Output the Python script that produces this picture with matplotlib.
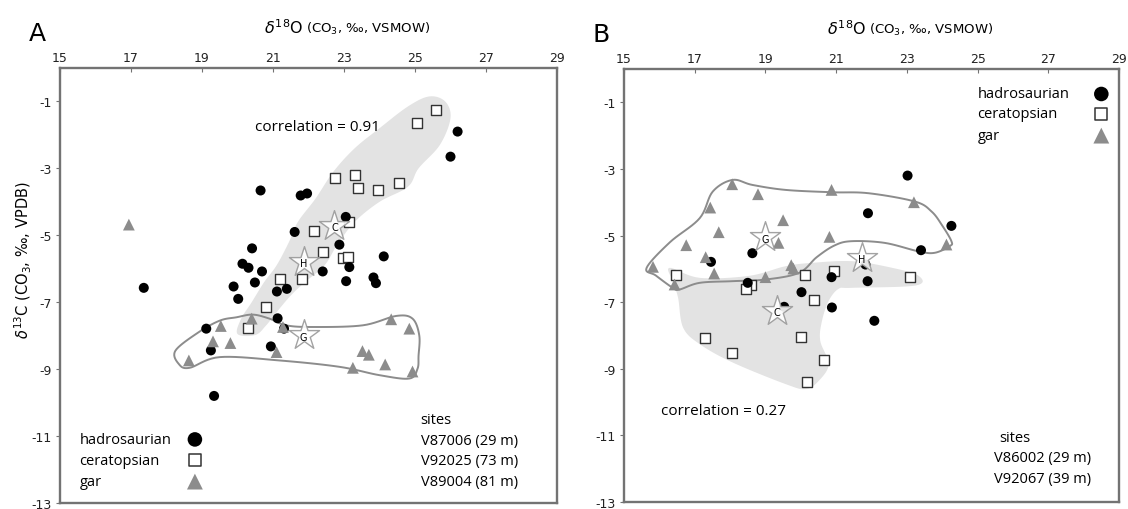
import numpy as np
import matplotlib
matplotlib.use("Agg")
import matplotlib.pyplot as plt
from matplotlib.patches import Polygon

# ---------------- data: d18O (x), d13C (y) ----------------
# panel A
a_hadro_x = [17.36, 20.65, 21.78, 21.96, 21.61, 20.41, 20.14, 20.31, 20.69, 20.49, 19.89, 20.02,
             21.11, 21.39, 22.40, 22.87, 23.15, 24.12, 23.06, 23.83, 23.90, 21.13, 21.31, 19.12,
             19.25, 20.94, 19.34, 26.20, 26.00, 23.05]
a_hadro_y = [-6.57, -3.66, -3.81, -3.75, -4.90, -5.39, -5.85, -5.97, -6.08, -6.41, -6.53, -6.90,
             -6.68, -6.60, -6.08, -5.28, -5.95, -5.63, -6.37, -6.26, -6.43, -7.48, -7.79, -7.79,
             -8.44, -8.32, -9.80, -1.90, -2.65, -4.45]
a_cera_x = [22.15, 21.21, 21.81, 22.42, 20.81, 22.76, 22.98, 23.12, 20.29, 25.60, 25.05, 23.30,
            23.40, 23.95, 24.55, 23.15]
a_cera_y = [-4.86, -6.30, -6.30, -5.50, -7.14, -3.28, -5.68, -5.66, -7.76, -1.25, -1.65, -3.20,
            -3.60, -3.65, -3.45, -4.60]
a_gar_x = [16.94, 20.40, 21.28, 19.53, 19.31, 19.80, 21.10, 18.63, 23.52, 23.70, 24.33, 24.84,
           24.16, 23.25, 24.93]
a_gar_y = [-4.68, -7.49, -7.74, -7.71, -8.17, -8.22, -8.49, -8.74, -8.46, -8.57, -7.51, -7.79,
           -8.86, -8.96, -9.07]
a_means = {"C": (22.73, -4.71), "H": (21.87, -5.80), "G": (21.86, -7.99)}
a_sites = ["V87006 (29 m)", "V92025 (73 m)", "V89004 (81 m)"]
a_corr = "correlation = 0.91"

# outline of ceratopsian field (grey) and gar field (line), panel A
a_cera_field = [(20.0, -7.95), (20.1, -7.5), (20.4, -7.0), (20.75, -6.4), (21.1, -5.9), (21.45, -5.2),
                (21.7, -4.6), (22.2, -3.9), (22.7, -3.1), (23.3, -2.4), (24.0, -1.8), (24.8, -1.15),
                (25.4, -0.85), (25.85, -1.0), (26.0, -1.5), (25.7, -2.3), (25.1, -3.0), (24.8, -3.55),
                (24.0, -4.0), (23.3, -4.6), (22.8, -5.3), (22.45, -5.9), (21.9, -6.4), (21.5, -6.8),
                (21.1, -7.3), (20.8, -7.7), (20.5, -7.98)]
a_gar_field = [(18.25, -8.45), (18.9, -7.9), (19.5, -7.55), (19.97, -7.45), (20.43, -7.37), (20.9, -7.49),
               (21.37, -7.69), (22.12, -7.74), (23.53, -7.69), (24.47, -7.41), (24.93, -7.49),
               (25.12, -7.99), (25.1, -8.6), (25.07, -8.99), (24.84, -9.28), (24.0, -9.18),
               (22.87, -8.93), (21.18, -8.74), (19.5, -8.64), (18.65, -8.96), (18.35, -8.85)]

# panel B
b_hadro_x = [17.46, 18.63, 20.02, 20.87, 20.88, 21.90, 21.89, 22.08, 19.53, 23.02, 24.26, 23.40,
             21.83, 18.50]
b_hadro_y = [-5.79, -5.53, -6.70, -6.25, -7.16, -4.33, -6.37, -7.56, -7.14, -3.20, -4.71, -5.44,
             -5.87, -6.42]
b_cera_x = [16.48, 18.58, 18.44, 20.11, 20.94, 20.38, 17.30, 20.02, 23.09, 18.06, 20.65, 20.18]
b_cera_y = [-6.17, -6.47, -6.62, -6.19, -6.07, -6.93, -8.08, -8.04, -6.24, -8.53, -8.73, -9.40]
b_gar_x = [18.06, 18.79, 17.44, 19.50, 17.68, 19.37, 16.76, 17.31, 20.81, 20.87, 15.82, 17.55,
           19.73, 19.79, 19.00, 16.43, 23.20, 24.12]
b_gar_y = [-3.46, -3.76, -4.16, -4.54, -4.90, -5.22, -5.29, -5.65, -5.04, -3.63, -5.94, -6.14,
           -5.89, -5.99, -6.25, -6.47, -4.00, -5.27]
b_means = {"G": (19.00, -5.05), "H": (21.72, -5.67), "C": (19.32, -7.26)}
b_sites = ["V86002 (29 m)", "V92067 (39 m)"]
b_corr = "correlation = 0.27"

b_cera_field = [(16.29, -5.97), (17.14, -6.27), (18.54, -6.21), (19.57, -5.92), (20.32, -5.82),
                (21.44, -5.77), (22.5, -5.95), (23.32, -6.2), (23.25, -6.5), (21.44, -6.57),
                (21.07, -6.6), (20.79, -6.96), (20.6, -7.56), (20.55, -8.16), (20.79, -8.86),
                (20.51, -9.36), (20.14, -9.61), (19.57, -9.46), (18.07, -8.81), (17.14, -8.26),
                (16.67, -7.76), (16.53, -6.87), (16.38, -6.37)]
b_gar_field = [(15.64, -5.97), (16.3, -5.2), (17.14, -4.48), (17.51, -3.68), (18.07, -3.33),
               (18.63, -3.48), (19.57, -3.63), (20.88, -3.7), (21.92, -3.73), (23.23, -3.98),
               (23.7, -4.28), (24.0, -4.7), (24.26, -5.17), (24.21, -5.32), (23.78, -5.52),
               (23.31, -5.47), (22.37, -5.22), (21.43, -5.17), (20.95, -5.3), (20.45, -5.65),
               (19.95, -6.12), (19.01, -6.32), (18.07, -6.37), (17.14, -6.42), (16.57, -6.62),
               (16.38, -6.57), (15.9, -6.2)]

xticks = [15, 17, 19, 21, 23, 25, 27, 29]
yticks = [-1, -3, -5, -7, -9, -11, -13]

FRAME = "#737373"
GAR = "#8c8c8c"
FIELD = "#e3e3e3"
TXT = "Open Sans"


def smooth_closed(pts, n=10):
    # Catmull-Rom through the outline vertices (just to draw a round hand-drawn line)
    p = np.asarray(pts, float)
    t = np.linspace(0, 1, n, endpoint=False)[:, None]
    out = []
    for i in range(len(p)):
        p0, p1, p2, p3 = p[i - 1], p[i], p[(i + 1) % len(p)], p[(i + 2) % len(p)]
        out.append(0.5 * (2 * p1 + (-p0 + p2) * t + (2 * p0 - 5 * p1 + 4 * p2 - p3) * t ** 2
                          + (-p0 + 3 * p1 - 3 * p2 + p3) * t ** 3))
    return np.vstack(out)


def setup(ax, letter, ylabel):
    ax.set_xlim(15, 29)
    ax.set_ylim(-13, 0)
    ax.xaxis.tick_top()
    ax.set_xticks(xticks)
    ax.set_yticks(yticks)
    ax.set_xticklabels([str(v) for v in xticks], fontsize=9, color="#222222")
    ax.set_yticklabels([str(v) for v in yticks], fontsize=9, color="#222222")
    ax.tick_params(axis="x", direction="in", length=3, color=FRAME, pad=3)
    ax.tick_params(axis="y", direction="out", length=3, color=FRAME, pad=3)
    for s in ax.spines.values():
        s.set_color(FRAME)
        s.set_linewidth(1.7)
    ax.text(0.49, 1.095, r"$\delta^{18}$O", transform=ax.transAxes,
            ha="right", va="center", fontsize=11.5, family="DejaVu Sans")
    ax.text(0.495, 1.092, r"(CO$_3$, ‰, VSMOW)", transform=ax.transAxes,
            ha="left", va="center", fontsize=9.5, family="DejaVu Sans")
    ax.text(-0.046, 1.08, letter, transform=ax.transAxes, ha="center", va="center",
            fontsize=18, family="DejaVu Sans")
    if ylabel:
        ax.set_ylabel(r"$\delta^{13}$C (CO$_3$, ‰, VPDB)", fontsize=10.5, family="DejaVu Sans")
        ax.yaxis.set_label_coords(-0.052, 0.56)


def draw_panel(ax, hx, hy, cx, cy, gx, gy, cera_field, gar_field, means):
    ax.add_patch(Polygon(smooth_closed(cera_field), closed=True, facecolor=FIELD,
                         edgecolor="none", zorder=1))
    g = smooth_closed(gar_field)
    ax.add_patch(Polygon(g, closed=True, facecolor="none", edgecolor=GAR, lw=1.4, zorder=2))
    ax.scatter(cx, cy, marker="s", s=48, facecolor="white", edgecolor="#333333", lw=1.0, zorder=3)
    ax.scatter(hx, hy, marker="o", s=52, facecolor="black", edgecolor="none", zorder=4)
    ax.scatter(gx, gy, marker="^", s=72, facecolor=GAR, edgecolor="none", zorder=4)
    for lab, (mx, my) in means.items():
        ax.scatter([mx], [my], marker="*", s=520, facecolor="white", edgecolor="#999999",
                   lw=1.0, alpha=0.9, zorder=5)
        ax.text(mx, my - 0.04, lab, ha="center", va="center", fontsize=7, zorder=6,
                family="DejaVu Sans")


def legend(ax, x_txt, x_mk, ys):
    names = ["hadrosaurian", "ceratopsian", "gar"]
    styles = [dict(marker="o", s=110, facecolor="black", edgecolor="none"),
              dict(marker="s", s=85, facecolor="white", edgecolor="#333333", lw=1.1),
              dict(marker="^", s=130, facecolor=GAR, edgecolor="none")]
    for name, st, yy in zip(names, styles, ys):
        ax.text(x_txt, yy, name, ha="left", va="center", fontsize=10.5, family=TXT)
        ax.scatter([x_mk], [yy], clip_on=False, zorder=5, **st)


def sites(ax, x_head, x_right, y_head, lines, dy):
    ax.text(x_head, y_head, "sites", ha="center", va="center", fontsize=10.5, family=TXT)
    for i, s in enumerate(lines):
        ax.text(x_right, y_head - dy * (i + 1), s, ha="right", va="center", fontsize=10.5,
                family=TXT)


fig = plt.figure(figsize=(11.28, 5.10), dpi=100)
axA = fig.add_axes([60 / 1128, 6 / 510, 497 / 1128, 435 / 510])
axB = fig.add_axes([624 / 1128, 7 / 510, 495 / 1128, 433 / 510])

setup(axA, "A", True)
setup(axB, "B", False)

draw_panel(axA, a_hadro_x, a_hadro_y, a_cera_x, a_cera_y, a_gar_x, a_gar_y,
           a_cera_field, a_gar_field, a_means)
draw_panel(axB, b_hadro_x, b_hadro_y, b_cera_x, b_cera_y, b_gar_x, b_gar_y,
           b_cera_field, b_gar_field, b_means)

axA.text(20.5, -1.76, a_corr, ha="left", va="center", fontsize=11, family=TXT)
axB.text(16.05, -10.25, b_corr, ha="left", va="center", fontsize=11, family=TXT)

legend(axA, 15.55, 18.8, [-11.1, -11.72, -12.36])
legend(axB, 25.0, 28.5, [-0.75, -1.35, -2.0])

sites(axA, 25.6, 27.9, -10.5, a_sites, 0.62)
sites(axB, 26.05, 28.2, -11.05, b_sites, 0.62)

fig.savefig("out.png", dpi=100)
